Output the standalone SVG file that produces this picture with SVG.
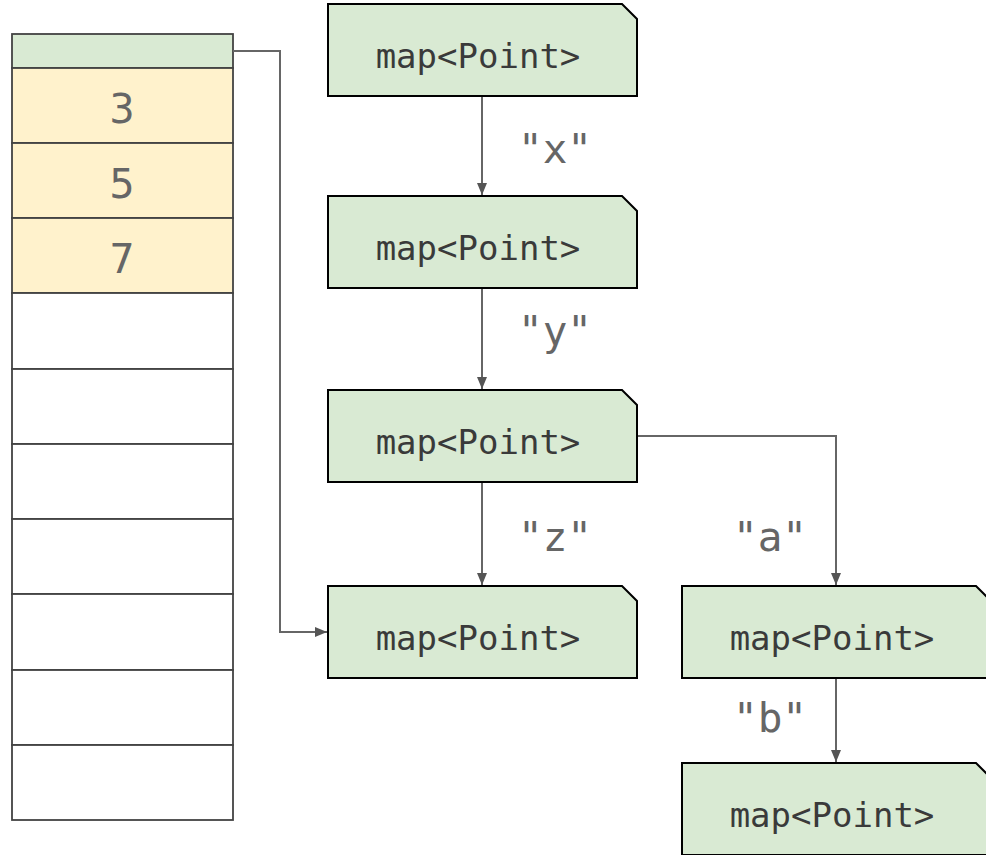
<svg xmlns="http://www.w3.org/2000/svg" width="986" height="855" viewBox="0 0 986 855">
  <style>
    .cell { stroke: #434343; stroke-width: 1.8; }
    .head { fill: #d9ead3; }
    .used { fill: #fff2cc; }
    .free { fill: #ffffff; }
    .num { font-family: "DejaVu Sans", sans-serif; font-size: 40px; fill: #666666; text-anchor: middle; }
    .map { fill: #d9ead3; stroke: #000000; stroke-width: 2; }
    .maptxt { font-family: "DejaVu Sans Mono", monospace; font-size: 34px; fill: #3a3a3a; text-anchor: middle; }
    .key { font-family: "DejaVu Sans Mono", monospace; font-size: 41px; fill: #666666; text-anchor: middle; }
    .edge { fill: none; stroke: #666666; stroke-width: 2; }
  </style>
  <defs>
    <marker id="arrow" viewBox="0 0 12 10" refX="12" refY="5" markerWidth="6" markerHeight="5" orient="auto" markerUnits="strokeWidth">
      <path d="M0,0 L12,5 L0,10 z" fill="#555555"/>
    </marker>
    <path id="mapShape" d="M0,0 H294 L309,15 V92 H0 Z"/>
  </defs>

  <rect width="986" height="855" fill="#ffffff"/>

  <!-- array column -->
  <g id="array">
    <rect class="cell head" x="12" y="34" width="221" height="34"/>
    <rect class="cell used" x="12" y="68" width="221" height="75"/>
    <rect class="cell used" x="12" y="143" width="221" height="75"/>
    <rect class="cell used" x="12" y="218" width="221" height="75"/>
    <rect class="cell free" x="12" y="293" width="221" height="76"/>
    <rect class="cell free" x="12" y="369" width="221" height="75"/>
    <rect class="cell free" x="12" y="444" width="221" height="75"/>
    <rect class="cell free" x="12" y="519" width="221" height="75"/>
    <rect class="cell free" x="12" y="594" width="221" height="76"/>
    <rect class="cell free" x="12" y="670" width="221" height="75"/>
    <rect class="cell free" x="12" y="745" width="221" height="75"/>
    <text class="num" x="122" y="123">3</text>
    <text class="num" x="122" y="198">5</text>
    <text class="num" x="122" y="273">7</text>
  </g>

  <!-- connectors -->
  <g id="connectors">
    <path class="edge" d="M233,51 H280 V632 H327" marker-end="url(#arrow)"/>
    <path class="edge" d="M482,96 V195" marker-end="url(#arrow)"/>
    <path class="edge" d="M482,288 V389" marker-end="url(#arrow)"/>
    <path class="edge" d="M482,482 V585" marker-end="url(#arrow)"/>
    <path class="edge" d="M637,436 H836 V585" marker-end="url(#arrow)"/>
    <path class="edge" d="M836,678 V762" marker-end="url(#arrow)"/>
    <text class="key" x="555" y="163">"x"</text>
    <text class="key" x="555" y="345">"y"</text>
    <text class="key" x="555" y="551">"z"</text>
    <text class="key" x="770" y="551">"a"</text>
    <text class="key" x="770" y="732">"b"</text>
  </g>

  <!-- map nodes -->
  <g id="map1">
    <use href="#mapShape" class="map" x="328" y="4"/>
    <text class="maptxt" x="478" y="68">map&lt;Point&gt;</text>
  </g>
  <g id="map2">
    <use href="#mapShape" class="map" x="328" y="196"/>
    <text class="maptxt" x="478" y="260">map&lt;Point&gt;</text>
  </g>
  <g id="map3">
    <use href="#mapShape" class="map" x="328" y="390"/>
    <text class="maptxt" x="478" y="454">map&lt;Point&gt;</text>
  </g>
  <g id="map4">
    <use href="#mapShape" class="map" x="328" y="586"/>
    <text class="maptxt" x="478" y="650">map&lt;Point&gt;</text>
  </g>
  <g id="map5">
    <use href="#mapShape" class="map" x="682" y="586"/>
    <text class="maptxt" x="832" y="650">map&lt;Point&gt;</text>
  </g>
  <g id="map6">
    <use href="#mapShape" class="map" x="682" y="763"/>
    <text class="maptxt" x="832" y="827">map&lt;Point&gt;</text>
  </g>
</svg>
